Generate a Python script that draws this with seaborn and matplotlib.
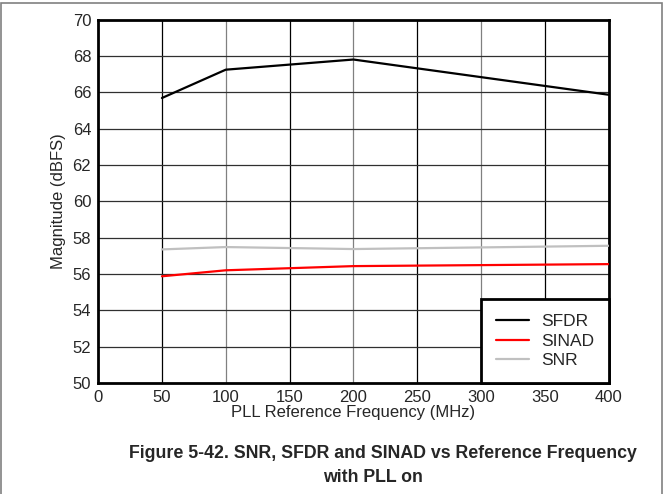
import pandas as pd
import matplotlib.pyplot as plt
import seaborn as sns
from matplotlib.patches import Rectangle

# data
freq = [50, 100, 200, 400]
sfdr = [65.69, 67.25, 67.81, 65.87]
sinad = [55.87, 56.2, 56.43, 56.54]
snr = [57.35, 57.48, 57.37, 57.55]

df = pd.DataFrame({
    "freq": freq * 3,
    "value": sfdr + sinad + snr,
    "metric": ["SFDR"] * len(freq) + ["SINAD"] * len(freq) + ["SNR"] * len(freq),
})

sns.set_style("white")
plt.rcParams["font.family"] = ["Liberation Sans", "DejaVu Sans"]

fig = plt.figure(figsize=(6.63, 4.94), dpi=100)
ax = fig.add_axes([0.148, 0.225, 0.770, 0.735])

sns.lineplot(data=df, x="freq", y="value", hue="metric",
             palette={"SFDR": "black", "SINAD": "#ff0000", "SNR": "#c0c0c0"},
             linewidth=1.6, ax=ax, zorder=3)

ax.set_xlim(0, 400)
ax.set_ylim(50, 70)
ax.set_xticks(range(0, 401, 50))
ax.set_yticks(range(50, 71, 2))
ax.tick_params(labelsize=12, length=0, pad=5)

# grid: black and grey lines like the original
for x in range(50, 400, 50):
    ax.axvline(x, color="#808080" if x % 100 == 0 else "black", lw=0.9, zorder=1)
for y in range(52, 70, 2):
    ax.axhline(y, color="#303030", lw=0.9, zorder=1)

for s in ax.spines.values():
    s.set_linewidth(2)
    s.set_color("black")

ax.set_xlabel("PLL Reference Frequency (MHz)", fontsize=12, labelpad=0)
ax.set_ylabel("Magnitude (dBFS)", fontsize=12, labelpad=5)

leg = ax.legend(loc="lower right", fontsize=12.5, frameon=True, fancybox=False,
                borderaxespad=0, handlelength=1.9, labelspacing=0.25,
                borderpad=0.85, handletextpad=0.7)
leg.get_frame().set_edgecolor("black")
leg.get_frame().set_linewidth(2)
leg.get_frame().set_alpha(1)
leg.set_zorder(5)

fig.text(0.577, 0.081, "Figure 5-42. SNR, SFDR and SINAD vs Reference Frequency",
         ha="center", va="center", fontsize=12.8, fontweight="bold")
fig.text(0.562, 0.033, "with PLL on",
         ha="center", va="center", fontsize=12.8, fontweight="bold")

fig.patches.append(Rectangle((0.001, -0.01), 0.997, 1.004, transform=fig.transFigure,
                             fill=False, edgecolor="#808080", lw=1.2))

fig.savefig("out.png", dpi=100)
